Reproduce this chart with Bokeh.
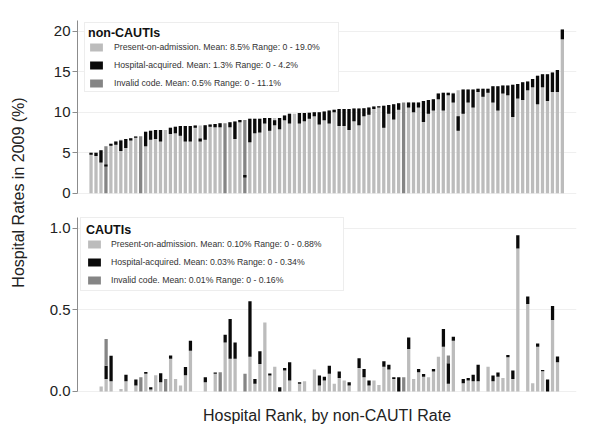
from math import pi
from bokeh.plotting import figure
from bokeh.layouts import row, column
from bokeh.models import (Range1d, Legend, LegendItem, FixedTicker,
                          PrintfTickFormatter, ColumnDataSource)
from bokeh.embed import file_html
from bokeh.resources import INLINE
from bokeh.core.properties import value

# ---------------- data ----------------
# non-CAUTI panel: total rate per hospital (sorted), hospital-acquired segment bounds
non_total = [5.0, 5.0, 5.3, 5.8, 6.1, 6.4, 6.6, 6.7, 6.8, 7.0,
             7.05, 7.6, 7.7, 7.8, 7.8, 7.8, 8.1, 8.2, 8.3, 8.3,
             8.3, 8.35, 8.35, 8.4, 8.5, 8.55, 8.65, 8.65, 8.75, 8.85,
             9.05, 9.05, 9.2, 9.2, 9.2, 9.3, 9.3, 9.3, 9.3, 9.6,
             9.8, 9.8, 9.9, 9.9, 9.95, 10.0, 10.0, 10.1, 10.2, 10.3,
             10.4, 10.4, 10.4, 10.45, 10.45, 10.5, 10.6, 10.7, 10.75, 10.8,
             10.9, 11.0, 11.1, 11.2, 11.2, 11.2, 11.2, 11.4, 11.5, 11.6,
             12.3, 12.4, 12.4, 12.4, 12.7, 12.8, 12.8, 12.8, 12.9, 12.9,
             12.9, 13.2, 13.2, 13.3, 13.3, 13.4, 13.5, 13.7, 13.8, 14.1,
             14.5, 14.7, 14.7, 14.9, 15.2, 20.2]
non_ha_low = [4.75, 4.6, 3.8, 3.3, 5.85, 6.0, 5.2, 5.6, 6.5, 6.85,
              7.05, 5.8, 6.6, 6.7, 6.4, 7.8, 7.3, 7.4, 7.1, 6.4,
              6.4, 8.1, 6.4, 6.6, 8.2, 8.15, 8.15, 8.65, 8.15, 6.7,
              8.75, 1.95, 6.3, 7.4, 7.5, 8.6, 7.7, 8.4, 7.9, 9.0,
              8.6, 9.8, 8.6, 8.9, 9.2, 9.5, 8.5, 9.0, 8.6, 10.0,
              8.3, 8.3, 7.8, 8.9, 8.4, 9.5, 9.7, 10.4, 10.6, 8.1,
              9.8, 9.1, 10.3, 11.2, 10.6, 10.0, 10.6, 8.8, 9.8, 10.2,
              11.6, 10.2, 12.1, 11.2, 7.7, 9.8, 11.2, 10.6, 12.5, 11.9,
              12.4, 11.2, 10.2, 12.3, 12.1, 9.4, 11.7, 11.5, 12.7, 13.1,
              11.0, 13.1, 11.4, 12.5, 12.5, 19.0]
non_ha_high = [5.0, 5.0, 5.3, 3.55, 6.1, 6.4, 6.5, 6.7, 6.8, 7.0,
               7.05, 7.6, 7.7, 7.8, 7.8, 7.8, 8.1, 8.2, 8.3, 8.3,
               8.3, 8.35, 6.75, 8.4, 8.5, 8.55, 8.65, 8.65, 8.75, 8.85,
               9.05, 2.25, 9.2, 9.2, 9.2, 9.3, 9.3, 9.0, 9.3, 9.6,
               9.8, 9.8, 9.9, 9.9, 9.95, 10.0, 10.0, 10.1, 10.2, 10.3,
               10.4, 10.4, 10.4, 10.45, 10.45, 10.5, 10.6, 10.7, 10.75, 10.8,
               10.9, 11.0, 11.1, 11.2, 11.2, 11.2, 11.2, 11.4, 11.5, 11.6,
               12.3, 12.4, 12.4, 12.3, 9.5, 12.8, 12.8, 12.8, 12.9, 12.9,
               12.9, 13.2, 13.2, 13.3, 13.3, 13.4, 13.5, 13.7, 13.8, 14.1,
               14.5, 14.7, 14.7, 14.9, 15.2, 20.2]
non_invalid = [3, 10, 27, 31, 63]

# CAUTI panel: stacked components per hospital (same rank order)
cauti_poa = [0, 0, 0, 0.03, 0.077, 0.063, 0, 0.016, 0.063, 0,
             0.037, 0, 0.108, 0.012, 0.1, 0.057, 0, 0.2, 0.077, 0.037,
             0.1, 0.25, 0, 0, 0.057, 0, 0.108, 0, 0.30, 0.2,
             0.2, 0, 0, 0.213, 0.047, 0.169, 0.423, 0.098, 0.152, 0,
             0.128, 0.067, 0, 0.047, 0.063, 0, 0.134, 0.037, 0.067, 0.108,
             0.047, 0.083, 0.067, 0.037, 0, 0.144, 0.087, 0.037, 0.067, 0.04,
             0.152, 0.134, 0.077, 0, 0, 0.26, 0.077, 0.118, 0.091, 0.087,
             0.122, 0.213, 0.274, 0.047, 0.311, 0, 0.051, 0.067, 0.063, 0.063,
             0, 0.152, 0.063, 0.091, 0.083, 0.209, 0.077, 0.876, 0, 0.535,
             0.051, 0.274, 0.124, 0, 0.437, 0.179]
cauti_ha = [0, 0, 0, 0, 0.08, 0.156, 0, 0, 0.04, 0,
            0.037, 0, 0.012, 0.014, 0, 0.055, 0, 0.02, 0, 0,
            0.05, 0.06, 0, 0, 0.03, 0, 0.008, 0, 0.047, 0.244,
            0.1, 0, 0, 0.34, 0.03, 0.077, 0, 0.012, 0, 0.026,
            0.016, 0.112, 0, 0.01, 0, 0, 0, 0.061, 0.024, 0.05,
            0, 0.04, 0, 0.02, 0, 0.059, 0.05, 0.03, 0, 0,
            0.033, 0.03, 0.01, 0.087, 0, 0.071, 0, 0.02, 0.016, 0,
            0.016, 0, 0.108, 0.126, 0.024, 0, 0.026, 0.016, 0.039, 0.1,
            0, 0, 0.035, 0.026, 0, 0.014, 0.051, 0.081, 0, 0.047,
            0, 0.02, 0.008, 0.073, 0.087, 0.035]
cauti_inv = [0, 0, 0, 0, 0.165, 0, 0, 0, 0, 0,
             0, 0.087, 0, 0, 0, 0, 0.077, 0, 0, 0,
             0, 0, 0, 0, 0, 0, 0, 0.118, 0, 0,
             0, 0, 0.108, 0, 0, 0, 0, 0, 0, 0,
             0, 0, 0, 0, 0, 0, 0, 0, 0, 0,
             0, 0, 0, 0, 0, 0, 0, 0, 0, 0,
             0, 0, 0, 0, 0.087, 0, 0, 0, 0, 0,
             0, 0, 0, 0.047, 0, 0, 0, 0, 0, 0,
             0, 0, 0, 0, 0, 0, 0, 0, 0, 0,
             0, 0, 0, 0, 0, 0]

non_labels = ["Present-on-admission. Mean: 8.5% Range: 0 - 19.0%",
              "Hospital-acquired. Mean: 1.3% Range: 0 - 4.2%",
              "Invalid code. Mean: 0.5% Range: 0 - 11.1%"]
cauti_labels = ["Present-on-admission. Mean: 0.10% Range: 0 - 0.88%",
                "Hospital-acquired. Mean: 0.03% Range: 0 - 0.34%",
                "Invalid code. Mean: 0.01% Range: 0 - 0.16%"]
top_ticks = [0, 5, 10, 15, 20]
bot_ticks = [0, 0.5, 1.0]

# ---------------- style ----------------
FONT = "Liberation Sans"
LIGHT = "#bcbcbc"
BLACK = "#0a0a0a"
DARK = "#858585"
TXT = "#222222"
AXC = "#8c8c8c"
GRID = "#efefef"
BW = 0.66


def style_axis(ax, ticks):
    ax.ticker = FixedTicker(ticks=ticks)
    ax.axis_line_color = AXC
    ax.major_tick_line_color = AXC
    ax.major_tick_out = 5
    ax.major_tick_in = 0
    ax.minor_tick_line_color = None
    ax.major_label_text_font = FONT
    ax.major_label_text_font_size = "15px"
    ax.major_label_text_color = TXT
    ax.major_label_standoff = 2


def style_legend(leg, title, label_width, padding, standoff):
    leg.title = title
    leg.title_text_font = FONT
    leg.title_text_font_style = "bold"
    leg.title_text_font_size = "12.5px"
    leg.title_text_color = "#111111"
    leg.title_standoff = 2
    leg.label_text_font = FONT
    leg.label_text_font_size = "8.7px"
    leg.label_text_color = "#333333"
    leg.glyph_width = 16
    leg.glyph_height = 10
    leg.label_height = 10
    leg.label_width = label_width
    leg.label_standoff = standoff
    leg.spacing = 8
    leg.padding = padding
    leg.margin = 0
    leg.border_line_color = "#dcdcdc"
    leg.border_line_width = 1
    leg.background_fill_color = "white"
    leg.background_fill_alpha = 1.0


n = len(non_total)
xs = list(range(n))

# ---------------- top panel ----------------
top = figure(width=562, height=204, output_backend="svg", toolbar_location=None,
             x_range=Range1d(-2.73, 97.85), y_range=Range1d(-0.65, 21.82),
             min_border_left=34, min_border_right=24, min_border_top=16,
             min_border_bottom=6, x_axis_location=None)
top.outline_line_color = None
top.xgrid.visible = False
top.ygrid.ticker = FixedTicker(ticks=top_ticks)
top.ygrid.grid_line_color = GRID
style_axis(top.yaxis[0], top_ticks)
top.yaxis[0].bounds = (0, 21.3)

light_ids = [i for i in xs if i not in non_invalid]
src_l = ColumnDataSource(dict(x=light_ids, top=[non_total[i] for i in light_ids]))
src_d = ColumnDataSource(dict(x=list(non_invalid), top=[non_total[i] for i in non_invalid]))
src_b = ColumnDataSource(dict(x=xs, bottom=non_ha_low, top=non_ha_high))
r_l = top.vbar(x="x", top="top", bottom=0, width=BW, source=src_l,
               fill_color=LIGHT, line_color=None)
r_d = top.vbar(x="x", top="top", bottom=0, width=BW, source=src_d,
               fill_color=DARK, line_color=None)
r_b = top.vbar(x="x", top="top", bottom="bottom", width=BW, source=src_b,
               fill_color=BLACK, line_color=None)

leg_top = Legend(items=[LegendItem(label=non_labels[0], renderers=[r_l]),
                        LegendItem(label=non_labels[1], renderers=[r_b]),
                        LegendItem(label=non_labels[2], renderers=[r_d])],
                 location=(7, 106))
style_legend(leg_top, "non-CAUTIs", 221, 3, 10)
top.add_layout(leg_top)

# ---------------- bottom panel ----------------
bot = figure(width=562, height=222, output_backend="svg", toolbar_location=None,
             x_range=Range1d(-1.77, 98.83), y_range=Range1d(-0.0123, 1.096),
             min_border_left=39, min_border_right=24, min_border_top=8,
             min_border_bottom=33)
bot.outline_line_color = None
bot.xgrid.visible = False
bot.ygrid.ticker = FixedTicker(ticks=bot_ticks)
bot.ygrid.grid_line_color = GRID
style_axis(bot.yaxis[0], bot_ticks)
bot.yaxis[0].formatter = PrintfTickFormatter(format="%.1f")
bot.yaxis[0].bounds = (0, 1.067)

xa = bot.xaxis[0]
xa.ticker = FixedTicker(ticks=[])
xa.axis_line_color = None
xa.major_tick_line_color = None
xa.minor_tick_line_color = None
xa.major_label_standoff = 0
xa.major_tick_out = 0
xa.major_tick_in = 0
xa.axis_label = "Hospital Rank, by non-CAUTI Rate"
xa.axis_label_text_font = FONT
xa.axis_label_text_font_size = "16px"
xa.axis_label_text_font_style = "normal"
xa.axis_label_text_color = TXT
xa.axis_label_standoff = 13

src_c = ColumnDataSource(dict(x=xs, poa=cauti_poa, ha=cauti_ha, inv=cauti_inv))
rs = bot.vbar_stack(["poa", "ha", "inv"], x="x", width=BW, source=src_c,
                    fill_color=[LIGHT, BLACK, DARK], line_color=None)

leg_bot = Legend(items=[LegendItem(label=cauti_labels[0], renderers=[rs[0]]),
                        LegendItem(label=cauti_labels[1], renderers=[rs[1]]),
                        LegendItem(label=cauti_labels[2], renderers=[rs[2]])],
                 location=(3, 102))
style_legend(leg_bot, "CAUTIs", 227, 5, 9)
bot.add_layout(leg_bot)

# ---------------- shared y title ----------------
tf = figure(width=38, height=426, output_backend="svg", toolbar_location=None,
            x_range=Range1d(0, 38), y_range=Range1d(0, 426),
            x_axis_location=None, y_axis_location=None, min_border=0)
tf.outline_line_color = None
tf.grid.visible = False
tf.text(x=[17.5], y=[234], text=["Hospital Rates in 2009 (%)"], angle=pi / 2,
        text_align="center", text_baseline="middle", text_font=value(FONT),
        text_font_size="16px", text_color=TXT)

layout = row(tf, column(top, bot))
open("out.html", "w").write(file_html(layout, INLINE))
